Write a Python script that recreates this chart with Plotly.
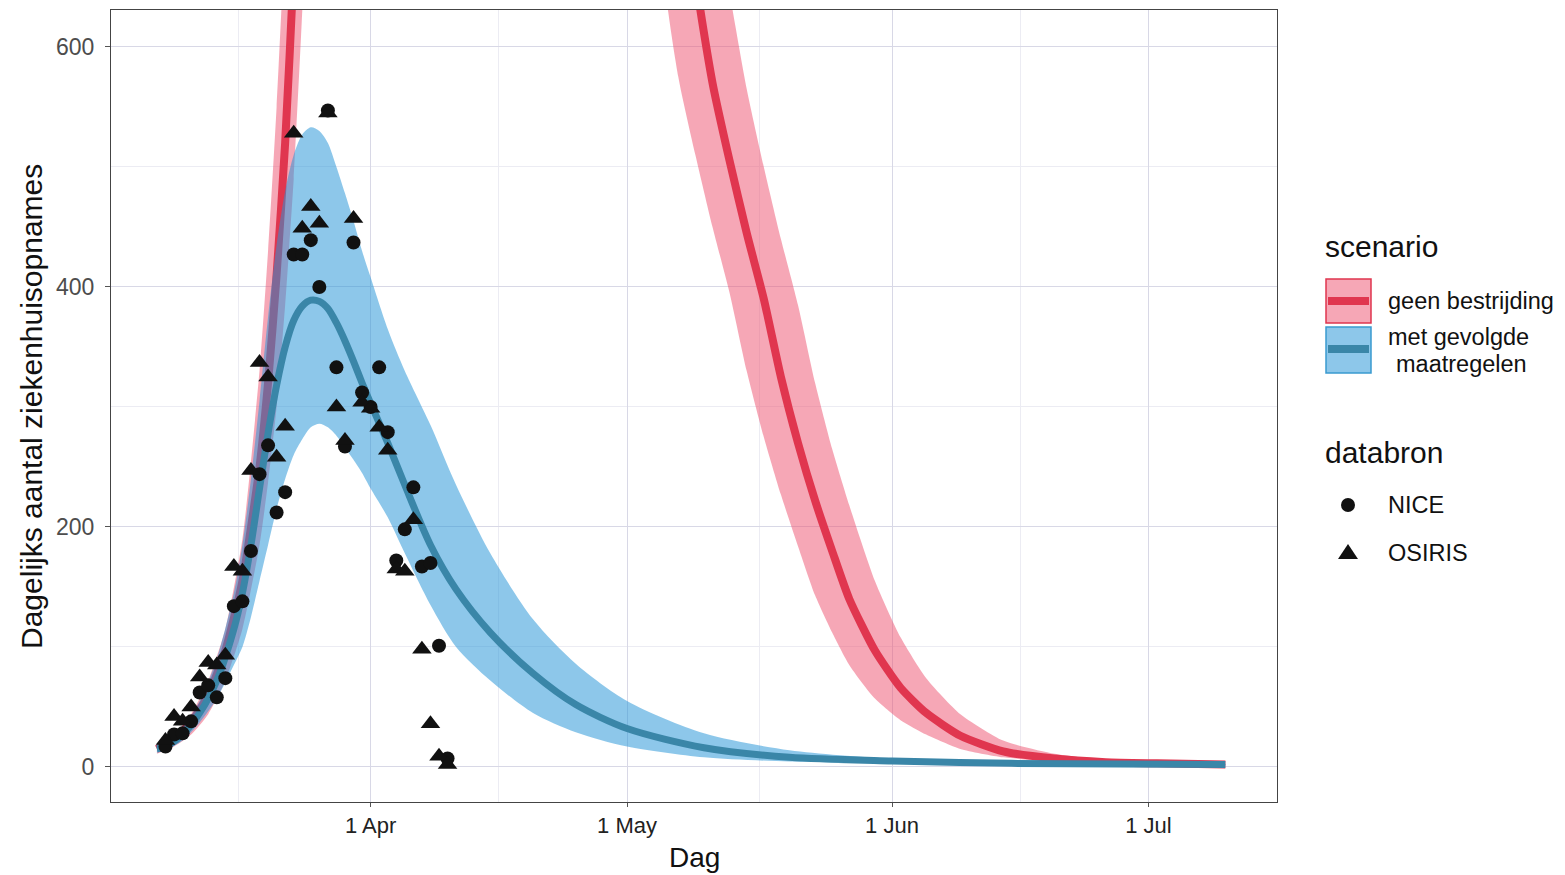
import plotly.graph_objects as go

# ---------------- data ----------------
obs_dates = ["2020-03-%02d" % d for d in range(8, 32)] + ["2020-04-%02d" % d for d in range(1, 11)]
nice = [17, 27, 28, 38, 62, 68, 58, 74, 134, 138, 180, 244, 268, 212, 229, 427, 427, 439, 400, 547,
        333, 267, 437, 312, 300, 333, 279, 172, 198, 233, 167, 170, 101, 7]
osiris = [22, 42, 38, 50, 75, 87, 85, 93, 167, 163, 247, 337, 325, 258, 284, 528, 449, 467, 453, 545,
          300, 272, 457, 304, 299, 283, 264, 165, 163, 206, 98, 36, 9, 2]

red_dates = ["2020-03-07", "2020-03-09", "2020-03-11", "2020-03-13", "2020-03-15", "2020-03-17",
             "2020-03-19", "2020-03-20", "2020-03-21", "2020-03-22", "2020-03-23", "2020-03-24",
             "2020-03-25", "2020-04-05", "2020-04-20", "2020-05-05", "2020-05-07", "2020-05-09",
             "2020-05-11", "2020-05-13", "2020-05-15", "2020-05-17", "2020-05-19", "2020-05-21",
             "2020-05-23", "2020-05-25", "2020-05-27", "2020-05-30", "2020-06-02", "2020-06-05",
             "2020-06-09", "2020-06-14", "2020-06-20", "2020-06-26", "2020-07-02", "2020-07-10"]
red_mid = [15, 23, 37, 60, 97, 155, 250, 320, 410, 520, 665, 850, 1090, 3500, 5500, 1100, 850, 660,
           570, 505, 445, 390, 325, 270, 222, 180, 140, 97, 66, 45, 26, 13, 7, 4, 3, 2]
red_hi = [19, 27, 44, 72, 115, 190, 330, 430, 550, 700, 900, 1150, 1470, 4200, 6500, 1500, 1150, 880,
          730, 645, 565, 500, 440, 385, 320, 265, 218, 155, 108, 74, 44, 22, 11, 6, 3.8, 2.5]
red_lo = [11, 17, 27, 44, 72, 115, 185, 237, 300, 385, 490, 630, 800, 2800, 4500, 680, 575, 510,
          450, 395, 330, 275, 227, 184, 143, 112, 85, 57, 39, 27, 15, 8, 4.5, 3, 2, 1.5]

blue_dates = ["2020-03-07", "2020-03-08", "2020-03-10", "2020-03-12", "2020-03-14", "2020-03-16",
              "2020-03-17", "2020-03-18", "2020-03-19", "2020-03-20", "2020-03-21", "2020-03-22",
              "2020-03-23", "2020-03-24", "2020-03-25", "2020-03-26", "2020-03-27", "2020-03-28",
              "2020-03-29", "2020-03-30", "2020-03-31", "2020-04-01", "2020-04-03", "2020-04-05",
              "2020-04-08", "2020-04-11", "2020-04-15", "2020-04-20", "2020-04-25", "2020-05-01",
              "2020-05-10", "2020-05-20", "2020-06-01", "2020-06-15", "2020-07-10"]
blue_mid = [15, 17, 27, 45, 72, 115, 145, 185, 232, 278, 318, 350, 372, 384, 389, 388, 382, 370, 355,
            338, 320, 303, 270, 235, 185, 148, 112, 78, 52, 32, 16, 8, 5, 3, 2]
blue_hi = [19, 21, 33, 55, 90, 145, 185, 240, 305, 375, 435, 480, 510, 527, 533, 530, 520, 500, 478,
           455, 430, 408, 365, 330, 285, 235, 178, 123, 86, 55, 28, 14, 7, 4, 2.5]
blue_lo = [12, 14, 22, 37, 57, 85, 100, 125, 155, 185, 215, 240, 260, 273, 283, 286, 283, 276, 266,
           256, 245, 232, 208, 178, 135, 100, 72, 45, 29, 17, 8, 4.5, 3, 2, 1.5]

x_tickvals = ["2020-04-01", "2020-05-01", "2020-06-01", "2020-07-01"]
x_ticktext = ["1 Apr", "1 May", "1 Jun", "1 Jul"]
x_minor = ["2020-03-16 12:00", "2020-04-16", "2020-05-16 12:00", "2020-06-16"]
y_tickvals = [0, 200, 400, 600]
y_minor = [100, 300, 500]

# ---------------- styling ----------------
RED_FILL = "rgba(238,80,110,0.50)"
RED_LINE = "#E0364F"
BLUE_FILL = "rgba(40,150,215,0.53)"
BLUE_LINE = "#3A86A8"
FONT = "Liberation Sans, Arial, sans-serif"

fig = go.Figure()

# red band + line
fig.add_trace(go.Scatter(x=red_dates, y=red_hi, mode="lines",
                         line=dict(width=0, color=RED_FILL, shape="spline", smoothing=0.6),
                         showlegend=False, hoverinfo="skip"))
fig.add_trace(go.Scatter(x=red_dates, y=red_lo, mode="lines",
                         line=dict(width=0, color=RED_FILL, shape="spline", smoothing=0.6),
                         fill="tonexty", fillcolor=RED_FILL, showlegend=False, hoverinfo="skip"))
fig.add_trace(go.Scatter(x=red_dates, y=red_mid, mode="lines",
                         line=dict(width=8, color=RED_LINE, shape="spline", smoothing=0.6),
                         showlegend=False, name="geen bestrijding"))

# blue band + line
fig.add_trace(go.Scatter(x=blue_dates, y=blue_hi, mode="lines",
                         line=dict(width=0, color=BLUE_FILL, shape="spline", smoothing=0.8),
                         showlegend=False, hoverinfo="skip"))
fig.add_trace(go.Scatter(x=blue_dates, y=blue_lo, mode="lines",
                         line=dict(width=0, color=BLUE_FILL, shape="spline", smoothing=0.8),
                         fill="tonexty", fillcolor=BLUE_FILL, showlegend=False, hoverinfo="skip"))
fig.add_trace(go.Scatter(x=blue_dates, y=blue_mid, mode="lines",
                         line=dict(width=7, color=BLUE_LINE, shape="spline", smoothing=0.8),
                         showlegend=False, name="met gevolgde maatregelen"))

# observations
fig.add_trace(go.Scatter(x=obs_dates, y=nice, mode="markers", name="NICE",
                         marker=dict(symbol="circle", size=14, color="#111111", line=dict(width=0)),
                         showlegend=False))
fig.add_trace(go.Scatter(x=obs_dates, y=osiris, mode="markers", name="OSIRIS",
                         marker=dict(symbol="triangle-up", size=17, color="#111111", line=dict(width=0)),
                         showlegend=False))

# ---------------- layout ----------------
OFF = 8                      # page body margin of the html page
W, H = 1565 - OFF, 875 - OFF
L, R, T, B = 111 - OFF, 1277 - OFF, 10 - OFF, 802 - OFF


def px(x):
    return (x - OFF - L) / (R - L)


def py(y):
    return (B - (y - OFF)) / (B - T)


GRID = "#D8D8E6"
MINOR = "#ECECF3"

fig.update_layout(
    width=W, height=H,
    margin=dict(l=L, r=W - R, t=T, b=H - B, autoexpand=False),
    paper_bgcolor="white", plot_bgcolor="white",
    font=dict(family=FONT, color="#222222"),
    showlegend=False,
    xaxis=dict(
        type="date", range=["2020-03-01 15:00", "2020-07-16 01:00"],
        tickmode="array", tickvals=x_tickvals, ticktext=x_ticktext,
        tickfont=dict(size=22, color="#222222"),
        ticks="outside", ticklen=4, tickcolor="#555555", ticklabelstandoff=0,
        showgrid=True, gridcolor=GRID, gridwidth=1,
        minor=dict(tickvals=x_minor, showgrid=True, gridcolor=MINOR, gridwidth=1, ticks=""),
        showline=True, linecolor="#444444", linewidth=1, mirror=True,
        zeroline=False,
    ),
    yaxis=dict(
        range=[-29.2, 630.8],
        tickmode="array", tickvals=y_tickvals, ticktext=[str(v) for v in y_tickvals],
        tickfont=dict(size=23, color="#4D4D4D"),
        ticks="outside", ticklen=5, tickcolor="#555555", ticklabelstandoff=6,
        showgrid=True, gridcolor=GRID, gridwidth=1,
        minor=dict(tickvals=y_minor, showgrid=True, gridcolor=MINOR, gridwidth=1, ticks=""),
        showline=True, linecolor="#444444", linewidth=1, mirror=True,
        zeroline=False,
    ),
)

annotations = [
    dict(text="Dag", x=px(694), y=py(857), xref="paper", yref="paper", showarrow=False,
         font=dict(size=28, color="#111111"), xanchor="center", yanchor="middle"),
    dict(text="Dagelijks aantal ziekenhuisopnames", x=px(31), y=py(407), xref="paper", yref="paper",
         showarrow=False, textangle=-90, font=dict(size=30, color="#111111"),
         xanchor="center", yanchor="middle"),
    dict(text="scenario", x=px(1323), y=py(247), xref="paper", yref="paper", showarrow=False,
         font=dict(size=30, color="#111111"), xanchor="left", yanchor="middle"),
    dict(text="geen bestrijding", x=px(1386), y=py(301), xref="paper", yref="paper", showarrow=False,
         font=dict(size=23.5, color="#111111"), xanchor="left", yanchor="middle"),
    dict(text="met gevolgde", x=px(1386), y=py(337), xref="paper", yref="paper", showarrow=False,
         font=dict(size=23.5, color="#111111"), xanchor="left", yanchor="middle"),
    dict(text="maatregelen", x=px(1394), y=py(364), xref="paper", yref="paper", showarrow=False,
         font=dict(size=23.5, color="#111111"), xanchor="left", yanchor="middle"),
    dict(text="databron", x=px(1323), y=py(452), xref="paper", yref="paper", showarrow=False,
         font=dict(size=30, color="#111111"), xanchor="left", yanchor="middle"),
    dict(text="NICE", x=px(1386), y=py(505), xref="paper", yref="paper", showarrow=False,
         font=dict(size=23.5, color="#111111"), xanchor="left", yanchor="middle"),
    dict(text="OSIRIS", x=px(1386), y=py(553), xref="paper", yref="paper", showarrow=False,
         font=dict(size=23.5, color="#111111"), xanchor="left", yanchor="middle"),
]

shapes = [
    # red key
    dict(type="rect", xref="paper", yref="paper", x0=px(1326), x1=px(1371), y0=py(323), y1=py(279),
         fillcolor=RED_FILL, line=dict(color=RED_LINE, width=1.5)),
    dict(type="line", xref="paper", yref="paper", x0=px(1328), x1=px(1369), y0=py(301), y1=py(301),
         line=dict(color=RED_LINE, width=8)),
    # blue key
    dict(type="rect", xref="paper", yref="paper", x0=px(1326), x1=px(1371), y0=py(373), y1=py(327),
         fillcolor=BLUE_FILL, line=dict(color="#3A9AD0", width=1.5)),
    dict(type="line", xref="paper", yref="paper", x0=px(1328), x1=px(1369), y0=py(349), y1=py(349),
         line=dict(color=BLUE_LINE, width=8)),
    # NICE symbol
    dict(type="circle", xref="paper", yref="paper", x0=px(1341), x1=px(1355), y0=py(512), y1=py(498),
         fillcolor="#111111", line=dict(width=0)),
    # OSIRIS symbol
    dict(type="path", xref="paper", yref="paper",
         path="M %f,%f L %f,%f L %f,%f Z" % (px(1338), py(559), px(1358), py(559), px(1348), py(544)),
         fillcolor="#111111", line=dict(width=0)),
]

fig.update_layout(annotations=annotations, shapes=shapes)

fig.write_html("out.html")
